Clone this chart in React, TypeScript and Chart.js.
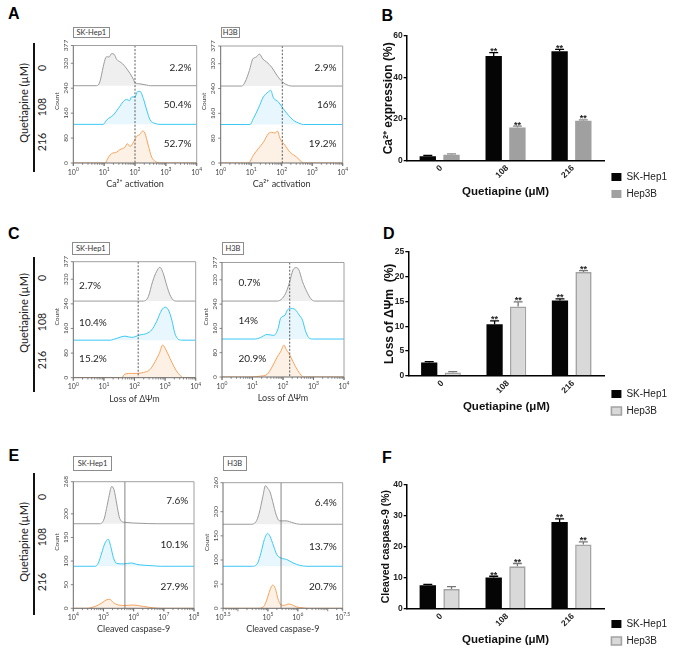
import React, { useEffect, useRef } from 'react';
import { Chart, registerables } from 'chart.js';

Chart.register(...registerables);

// ---------------- DATA ----------------
const doses = ['0', '108', '216'];
const cellLines = ['SK-Hep1', 'Hep3B'];
const significant = [false, true, true];

// B: Ca2+ expression (%)
const caSk = [2.2, 50.4, 52.7];
const caSkErr = [0.3, 1.6, 0.9];
const caHep = [2.9, 16, 19.2];
const caHepErr = [0.4, 0.6, 0.4];
// D: loss of mitochondrial membrane potential (%)
const mmpSk = [2.7, 10.4, 15.2];
const mmpSkErr = [0.2, 0.7, 0.3];
const mmpHep = [0.7, 14, 20.9];
const mmpHepErr = [0.2, 0.9, 0.3];
// F: cleaved caspase-9 (%)
const casSk = [7.6, 10.1, 27.9];
const casSkErr = [0.3, 0.4, 1.0];
const casHep = [6.4, 13.7, 20.7];
const casHepErr = [0.8, 0.9, 0.8];

// histogram traces: [log10 intensity, count above the row baseline]
const caSk0 = [[0.76, 0], [0.86, 12], [0.97, 61], [1.05, 90], [1.1, 93], [1.16, 92], [1.24, 103], [1.32, 101], [1.41, 84], [1.51, 77], [1.6, 70], [1.68, 61], [1.84, 39], [1.94, 22], [2.0, 10], [2.16, 6], [2.38, 2], [2.5, 0]];
const caSk108 = [[0.97, 0], [1.08, 14], [1.19, 22], [1.3, 30], [1.46, 51], [1.62, 73], [1.73, 80], [1.82, 76], [1.89, 88], [2.0, 88], [2.08, 105], [2.16, 106], [2.27, 83], [2.38, 46], [2.49, 14], [2.65, 3], [2.81, 0]];
const caSk216 = [[1.03, 0], [1.14, 19], [1.24, 30], [1.41, 35], [1.51, 43], [1.68, 51], [1.75, 62], [1.84, 53], [1.95, 67], [2.05, 85], [2.16, 92], [2.25, 103], [2.32, 96], [2.43, 57], [2.54, 19], [2.7, 3], [2.8, 0]];
const caHep0 = [[0.69, 0], [0.8, 13], [0.94, 50], [1.05, 87], [1.16, 93], [1.27, 103], [1.38, 87], [1.51, 77], [1.67, 61], [1.84, 35], [2.03, 13], [2.22, 2], [2.33, 0]];
const caHep108 = [[0.96, 0], [1.07, 19], [1.23, 51], [1.4, 89], [1.56, 105], [1.64, 110], [1.73, 86], [1.89, 73], [2.05, 51], [2.22, 30], [2.38, 14], [2.6, 3], [2.71, 0]];
const caHep216 = [[0.91, 0], [1.07, 25], [1.23, 46], [1.4, 67], [1.56, 94], [1.67, 99], [1.78, 96], [1.86, 103], [1.95, 78], [2.11, 57], [2.27, 35], [2.49, 19], [2.66, 3], [2.72, 0]];

const mmpSk0 = [[2.29, 0], [2.45, 14], [2.59, 63], [2.72, 96], [2.83, 110], [2.94, 90], [3.05, 52], [3.16, 20], [3.27, 3], [3.38, 0]];
const mmpSk108 = [[1.2, 0], [1.42, 6], [1.69, 13], [1.91, 9], [2.18, 17], [2.4, 22], [2.56, 33], [2.72, 60], [2.89, 98], [3.0, 107], [3.11, 98], [3.22, 65], [3.32, 22], [3.43, 3], [3.54, 0]];
const mmpSk216 = [[1.58, 0], [1.69, 12], [1.91, 14], [2.07, 14], [2.29, 17], [2.51, 27], [2.67, 52], [2.81, 79], [2.92, 106], [3.03, 90], [3.16, 63], [3.29, 36], [3.43, 14], [3.54, 3], [3.6, 0]];
const mmpHep0 = [[1.81, 0], [1.98, 9], [2.11, 31], [2.22, 64], [2.33, 103], [2.42, 110], [2.51, 105], [2.64, 64], [2.78, 31], [2.92, 7], [3.03, 0]];
const mmpHep108 = [[1.09, 0], [1.26, 5], [1.48, 15], [1.7, 12], [1.84, 35], [1.92, 68], [2.07, 79], [2.14, 95], [2.29, 101], [2.42, 95], [2.53, 79], [2.64, 62], [2.73, 29], [2.84, 5], [2.98, 0]];
const mmpHep216 = [[0.98, 0], [1.26, 3], [1.48, 9], [1.64, 33], [1.81, 66], [1.92, 83], [2.03, 105], [2.11, 90], [2.2, 77], [2.33, 50], [2.48, 22], [2.64, 2], [2.7, 0]];

const casSk0 = [[4.88, 0], [5.02, 10], [5.1, 32], [5.19, 60], [5.27, 79], [5.35, 72], [5.44, 42], [5.52, 15], [5.6, 5], [5.71, 3], [6.21, 1], [6.8, 0]];
const casSk108 = [[4.72, 0], [4.83, 7], [4.94, 28], [5.05, 49], [5.16, 57], [5.24, 42], [5.33, 18], [5.44, 6], [5.66, 5], [5.93, 7], [6.1, 4], [6.65, 1], [6.9, 0]];
const casSk216 = [[4.44, 0], [4.72, 4], [4.94, 11], [5.1, 18], [5.21, 19], [5.33, 12], [5.49, 7], [5.71, 6], [5.99, 7], [6.32, 4], [6.65, 1], [6.9, 0]];
const casHep0 = [[4.43, 0], [4.6, 5], [4.71, 23], [4.83, 57], [4.92, 80], [5.0, 74], [5.07, 67], [5.16, 47], [5.28, 19], [5.39, 7], [5.61, 7], [5.84, 3], [6.06, 0]];
const casHep108 = [[4.49, 0], [4.66, 7], [4.77, 28], [4.88, 55], [4.99, 68], [5.07, 62], [5.19, 42], [5.3, 24], [5.44, 17], [5.63, 14], [5.84, 7], [6.06, 2], [6.3, 0]];
const casHep216 = [[4.66, 0], [4.85, 3], [4.96, 17], [5.07, 38], [5.16, 48], [5.25, 41], [5.33, 21], [5.44, 7], [5.56, 6], [5.67, 9], [5.78, 8], [5.95, 3], [6.17, 1], [6.3, 0]];

// axis ticks
const ticksCount377 = [0, 80, 160, 240, 320, 377];
const ticksCount268 = [0, 50, 100, 150, 200, 268];
const ticksCount260 = [0, 50, 100, 150, 200, 260];
const decades04 = [0, 1, 2, 3, 4];
const decades48 = [4, 5, 6, 7, 8];
const decadesH3B = [3.5, 5, 6, 7.5];

// ---------------- STYLE ----------------
const FAM_H = 'Lato, "Open Sans", "DejaVu Sans", sans-serif';
const FAM_B = '"Liberation Sans", Arial, Helvetica, sans-serif';
const histColors = [
  { line: '#9b9b9b', fill: '#efefef' },
  { line: '#3cc8f5', fill: '#e7f7fd' },
  { line: '#f5a45f', fill: '#fdf0e5' },
];

type HistCfg = {
  plot: { l: number; t: number; r: number; b: number };
  xMin: number; xMax: number; xLabels: number[];
  yMax: number; yTicks: number[]; offsets: number[];
  series: number[][][];
  gate: number; gateDash: boolean;
  pct: number[]; pctX: number; pctAlign: 'left' | 'right'; pctY: number[];
  xTitle: string;
};

const hists: HistCfg[] = [
  { plot: { l: 73.3, t: 45.5, r: 196.7, b: 163 }, xMin: 0, xMax: 4, xLabels: decades04, yMax: 377, yTicks: ticksCount377, offsets: [248, 124, 0],
    series: [caSk0, caSk108, caSk216], gate: 2.0, gateDash: true, pct: caSk, pctX: 3.83, pctAlign: 'right', pctY: [306, 186, 63], xTitle: 'Ca²⁺ activation' },
  { plot: { l: 220.7, t: 46, r: 342.7, b: 163 }, xMin: 0, xMax: 4, xLabels: decades04, yMax: 377, yTicks: ticksCount377, offsets: [248, 124, 0],
    series: [caHep0, caHep108, caHep216], gate: 2.02, gateDash: true, pct: caHep, pctX: 3.8, pctAlign: 'right', pctY: [306, 186, 63], xTitle: 'Ca²⁺ activation' },
  { plot: { l: 73.3, t: 261.7, r: 195.7, b: 377.7 }, xMin: 0, xMax: 4, xLabels: decades04, yMax: 377, yTicks: ticksCount377, offsets: [249, 122, 0],
    series: [mmpSk0, mmpSk108, mmpSk216], gate: 2.12, gateDash: true, pct: mmpSk, pctX: 0.19, pctAlign: 'left', pctY: [298, 179, 60], xTitle: 'Loss of ΔΨm' },
  { plot: { l: 222, t: 262.5, r: 344, b: 377 }, xMin: 0, xMax: 4, xLabels: decades04, yMax: 377, yTicks: ticksCount377, offsets: [250, 125, 0],
    series: [mmpHep0, mmpHep108, mmpHep216], gate: 2.22, gateDash: true, pct: mmpHep, pctX: 0.54, pctAlign: 'left', pctY: [309, 184, 61], xTitle: 'Loss of ΔΨm' },
  { plot: { l: 73.3, t: 481.7, r: 194, b: 608.3 }, xMin: 4, xMax: 8, xLabels: decades48, yMax: 268, yTicks: ticksCount268, offsets: [179, 89, 0],
    series: [casSk0, casSk108, casSk216], gate: 5.71, gateDash: false, pct: casSk, pctX: 7.81, pctAlign: 'right', pctY: [227, 134, 45], xTitle: 'Cleaved caspase-9' },
  { plot: { l: 223, t: 482.7, r: 342.7, b: 608.3 }, xMin: 3.5, xMax: 7.5, xLabels: decadesH3B, yMax: 260, yTicks: ticksCount260, offsets: [174, 87, 0],
    series: [casHep0, casHep108, casHep216], gate: 5.44, gateDash: false, pct: casHep, pctX: 7.3, pctAlign: 'right', pctY: [219, 128, 44], xTitle: 'Cleaved caspase-9' },
];

function histDecor(cfg: HistCfg) {
  return {
    id: 'histDecor',
    afterDatasetsDraw(chart: any) {
      const { ctx, chartArea: a } = chart;
      const xs = chart.scales.x;
      const ys = chart.scales.y;
      const px = (e: number) => xs.getPixelForValue(Math.pow(10, e));
      ctx.save();
      // gate line
      const gx = px(cfg.gate);
      ctx.strokeStyle = cfg.gateDash ? '#4a4a4a' : '#666';
      ctx.lineWidth = cfg.gateDash ? 0.9 : 0.8;
      ctx.setLineDash(cfg.gateDash ? [2, 1.6] : []);
      ctx.beginPath(); ctx.moveTo(gx, a.top); ctx.lineTo(gx, a.bottom); ctx.stroke();
      ctx.setLineDash([]);
      // frame
      ctx.lineWidth = 1;
      ctx.strokeStyle = '#a0a0a0';
      ctx.beginPath(); ctx.moveTo(a.left, a.top); ctx.lineTo(a.right, a.top); ctx.lineTo(a.right, a.bottom); ctx.stroke();
      ctx.strokeStyle = '#6a6a6a';
      ctx.beginPath(); ctx.moveTo(a.left, a.top); ctx.lineTo(a.left, a.bottom); ctx.lineTo(a.right, a.bottom); ctx.stroke();
      // x ticks
      ctx.lineWidth = 0.8;
      ctx.beginPath();
      for (let e = Math.floor(cfg.xMin); e <= Math.ceil(cfg.xMax); e++) {
        for (let k = 1; k <= 9; k++) {
          const le = e + Math.log10(k);
          if (le < cfg.xMin - 1e-6 || le > cfg.xMax + 1e-6) continue;
          const x = px(le);
          ctx.moveTo(x, a.bottom); ctx.lineTo(x, a.bottom + (k === 1 ? 3 : 1.8));
        }
      }
      cfg.xLabels.forEach((e) => { const x = px(e); ctx.moveTo(x, a.bottom); ctx.lineTo(x, a.bottom + 3); });
      ctx.stroke();
      // x tick labels (10 with superscript exponent)
      ctx.fillStyle = '#444';
      ctx.textBaseline = 'alphabetic';
      ctx.textAlign = 'left';
      cfg.xLabels.forEach((e) => {
        const x = px(e);
        const sup = String(e);
        ctx.font = `7px ${FAM_H}`;
        const w1 = ctx.measureText('10').width;
        ctx.font = `5px ${FAM_H}`;
        const w2 = ctx.measureText(sup).width;
        const sx = x - (w1 + w2) / 2;
        const by = a.bottom + 11.5;
        ctx.font = `7px ${FAM_H}`;
        ctx.fillText('10', sx, by);
        ctx.font = `5px ${FAM_H}`;
        ctx.fillText(sup, sx + w1, by - 3.5);
      });
      // y ticks
      ctx.beginPath();
      cfg.yTicks.forEach((v) => { const y = ys.getPixelForValue(v); ctx.moveTo(a.left - 2.5, y); ctx.lineTo(a.left, y); });
      ctx.stroke();
      ctx.font = `6.5px ${FAM_H}`;
      ctx.textAlign = 'center';
      ctx.textBaseline = 'middle';
      cfg.yTicks.forEach((v) => {
        const y = ys.getPixelForValue(v);
        ctx.save(); ctx.translate(a.left - 7.5, y); ctx.rotate(-Math.PI / 2); ctx.fillText(String(v), 0, 0); ctx.restore();
      });
      ctx.save(); ctx.translate(a.left - 16.5, (a.top + a.bottom) / 2 - 3); ctx.rotate(-Math.PI / 2); ctx.fillText('Count', 0, 0); ctx.restore();
      // x title
      ctx.font = `9px ${FAM_H}`;
      ctx.fillStyle = '#333';
      ctx.fillText(cfg.xTitle, (a.left + a.right) / 2, a.bottom + 21);
      // percentages
      ctx.font = `10px ${FAM_H}`;
      ctx.fillStyle = '#1e1e1e';
      ctx.textAlign = cfg.pctAlign;
      cfg.pct.forEach((v, i) => ctx.fillText(`${v}%`, px(cfg.pctX), ys.getPixelForValue(cfg.pctY[i])));
      ctx.restore();
    },
  };
}

function Hist({ cfg }: { cfg: HistCfg }) {
  const ref = useRef<HTMLCanvasElement>(null);
  const p = cfg.plot;
  const left = Math.floor(p.l - 28);
  const top = Math.floor(p.t - 8);
  const w = Math.ceil(p.r + 10) - left;
  const h = Math.ceil(p.b + 30) - top;
  useEffect(() => {
    const datasets = cfg.series.map((s, i) => {
      const off = cfg.offsets[i];
      const pts = [
        { x: Math.pow(10, cfg.xMin), y: off },
        ...s.map(([e, c]) => ({ x: Math.pow(10, e), y: c + off })),
        { x: Math.pow(10, cfg.xMax), y: off },
      ];
      return {
        data: pts,
        borderColor: histColors[i].line,
        backgroundColor: histColors[i].fill,
        borderWidth: 1,
        pointRadius: 0,
        fill: { value: off },
        cubicInterpolationMode: 'monotone' as const,
      };
    });
    const chart = new Chart(ref.current!, {
      type: 'line',
      data: { datasets },
      options: {
        responsive: false,
        animation: false,
        events: [],
        layout: { padding: { left: p.l - left, top: p.t - top, right: left + w - p.r, bottom: top + h - p.b } },
        scales: {
          x: { type: 'logarithmic', min: Math.pow(10, cfg.xMin), max: Math.pow(10, cfg.xMax), display: false },
          y: { type: 'linear', min: 0, max: cfg.yMax, display: false },
        },
        plugins: { legend: { display: false }, tooltip: { enabled: false } },
      },
      plugins: [histDecor(cfg)],
    } as any);
    return () => chart.destroy();
  }, []);
  return <canvas ref={ref} width={w} height={h} style={{ position: 'absolute', left, top, width: w, height: h }} />;
}

type BarCfg = {
  rect: { left: number; top: number; w: number; h: number };
  areaLeft: number; areaTop: number; areaBottom: number;
  yMax: number; yStep: number; yTitle: string; yTitleSize: number; yTitleX: number; xTitleY: number;
  sk: number[]; skErr: number[]; hep: number[]; hepErr: number[];
  hepFill: string; hepBorder: string; hepBorderW: number; hepErrColor: string;
};

const bars: BarCfg[] = [
  { rect: { left: 375, top: 22, w: 302, h: 184 }, areaLeft: 406.7, areaTop: 36, areaBottom: 160.7,
    yMax: 60, yStep: 20, yTitle: 'Ca²⁺ expression (%)', yTitleSize: 12, yTitleX: 389, xTitleY: 192,
    sk: caSk, skErr: caSkErr, hep: caHep, hepErr: caHepErr, hepFill: '#a0a0a0', hepBorder: '#a0a0a0', hepBorderW: 0, hepErrColor: '#8a8a8a' },
  { rect: { left: 375, top: 238, w: 302, h: 185 }, areaLeft: 408.3, areaTop: 251.7, areaBottom: 376,
    yMax: 25, yStep: 5, yTitle: 'Loss of ΔΨm  (%)', yTitleSize: 12, yTitleX: 390, xTitleY: 406.7,
    sk: mmpSk, skErr: mmpSkErr, hep: mmpHep, hepErr: mmpHepErr, hepFill: '#d9d9d9', hepBorder: '#a3a3a3', hepBorderW: 1.6, hepErrColor: '#777' },
  { rect: { left: 375, top: 472, w: 302, h: 181 }, areaLeft: 406.7, areaTop: 484.3, areaBottom: 609,
    yMax: 40, yStep: 10, yTitle: 'Cleaved caspase-9 (%)', yTitleSize: 10.5, yTitleX: 386, xTitleY: 640,
    sk: casSk, skErr: casSkErr, hep: casHep, hepErr: casHepErr, hepFill: '#d9d9d9', hepBorder: '#a3a3a3', hepBorderW: 1.6, hepErrColor: '#777' },
];

function barDecor(cfg: BarCfg) {
  return {
    id: 'barDecor',
    afterDatasetsDraw(chart: any) {
      const { ctx, chartArea: a } = chart;
      const ys = chart.scales.y;
      const xs = chart.scales.x;
      const vals = [cfg.sk, cfg.hep];
      const errs = [cfg.skErr, cfg.hepErr];
      const colors = ['#000', cfg.hepErrColor];
      ctx.save();
      for (let d = 0; d < 2; d++) {
        const meta = chart.getDatasetMeta(d);
        meta.data.forEach((bar: any, i: number) => {
          const top = ys.getPixelForValue(vals[d][i] + errs[d][i]);
          ctx.strokeStyle = colors[d];
          ctx.lineWidth = 1.3;
          ctx.beginPath();
          ctx.moveTo(bar.x, bar.y); ctx.lineTo(bar.x, top);
          ctx.moveTo(bar.x - 4.5, top); ctx.lineTo(bar.x + 4.5, top);
          ctx.stroke();
          if (significant[i]) {
            ctx.fillStyle = '#222';
            ctx.font = `bold 9px ${FAM_B}`;
            ctx.textAlign = 'center';
            ctx.textBaseline = 'alphabetic';
            ctx.fillText('**', bar.x, top + 1.5);
          }
        });
      }
      // category labels rotated 45 degrees
      ctx.fillStyle = '#222';
      ctx.font = `bold 8.5px ${FAM_B}`;
      ctx.textAlign = 'right';
      ctx.textBaseline = 'middle';
      doses.forEach((lab, i) => {
        const x = xs.getPixelForTick(i);
        ctx.save();
        ctx.translate(x + 1.5, a.bottom + 6);
        ctx.rotate(-Math.PI / 4);
        ctx.fillText(lab, 0, 0);
        ctx.restore();
      });
      ctx.restore();
    },
  };
}

function Bar({ cfg }: { cfg: BarCfg }) {
  const ref = useRef<HTMLCanvasElement>(null);
  const r = cfg.rect;
  useEffect(() => {
    const tFont = { family: FAM_B, size: 8.5, weight: 'bold' as const };
    const chart = new Chart(ref.current!, {
      type: 'bar',
      data: {
        labels: doses,
        datasets: [
          { label: cellLines[0], data: cfg.sk, backgroundColor: '#050505', borderColor: '#050505', borderWidth: 0, barPercentage: 0.69, categoryPercentage: 0.72 },
          { label: cellLines[1], data: cfg.hep, backgroundColor: cfg.hepFill, borderColor: cfg.hepBorder, borderWidth: cfg.hepBorderW, barPercentage: 0.69, categoryPercentage: 0.72 },
        ],
      },
      options: {
        responsive: false,
        animation: false,
        events: [],
        layout: { padding: { top: cfg.areaTop - r.top, left: 0, right: 0, bottom: 0 } },
        scales: {
          x: {
            grid: { display: false, drawTicks: false },
            border: { display: true, color: '#000', width: 1.5 },
            ticks: { display: false },
            title: { display: true, text: 'Quetiapine (μM)', color: '#111', font: { family: FAM_B, size: 11.5, weight: 'bold' }, padding: { top: 0, bottom: r.top + r.h - cfg.xTitleY - 6.9 } },
            afterFit: (s: any) => { s.height = r.top + r.h - cfg.areaBottom; },
          },
          y: {
            min: 0, max: cfg.yMax,
            ticks: { stepSize: cfg.yStep, font: tFont, color: '#222', padding: 1 },
            grid: { drawOnChartArea: false, drawTicks: true, tickLength: 3, color: '#000', lineWidth: 1.3 },
            border: { display: true, color: '#000', width: 1.5 },
            title: { display: true, text: cfg.yTitle, color: '#111', font: { family: FAM_B, size: cfg.yTitleSize, weight: 'bold' }, padding: { top: cfg.yTitleX - r.left - cfg.yTitleSize * 0.6, bottom: 0 } },
            afterFit: (s: any) => { s.width = cfg.areaLeft - r.left; },
          },
        },
        plugins: {
          legend: {
            position: 'right', align: 'end',
            labels: { boxWidth: 10, boxHeight: 8, padding: 7, color: '#222', font: { family: FAM_B, size: 10 } },
          },
          tooltip: { enabled: false },
        },
      },
      plugins: [barDecor(cfg)],
    } as any);
    return () => chart.destroy();
  }, []);
  return <canvas ref={ref} width={r.w} height={r.h} style={{ position: 'absolute', left: r.left, top: r.top, width: r.w, height: r.h }} />;
}

// ---------------- LAYOUT (HTML text) ----------------
const letters = [
  { t: 'A', x: 8, y: 6 }, { t: 'B', x: 381.5, y: 8 }, { t: 'C', x: 8, y: 226 },
  { t: 'D', x: 383, y: 226 }, { t: 'E', x: 8.5, y: 448 }, { t: 'F', x: 382, y: 449.5 },
];
const sideGroups = [
  { barTop: 43, barBottom: 172, labelY: 103, rowY: [68, 106.7, 141.7] },
  { barTop: 256.7, barBottom: 391.7, labelY: 313, rowY: [278.3, 321.7, 360] },
  { barTop: 473.3, barBottom: 615, labelY: 541.7, rowY: [496.7, 536.7, 581.7] },
];
const cellBoxes = [
  { t: 'SK-Hep1', l: 72.7, y: 27.3, w: 37.3, h: 11 },
  { t: 'H3B', l: 221, y: 27.3, w: 18.5, h: 11 },
  { t: 'SK-Hep1', l: 71.7, y: 241.7, w: 38.3, h: 13.3 },
  { t: 'H3B', l: 221.7, y: 242, w: 22.5, h: 13 },
  { t: 'SK-Hep1', l: 73.3, y: 456, w: 38.5, h: 15 },
  { t: 'H3B', l: 222.7, y: 455.5, w: 24, h: 15.5 },
];

function Rot({ x, y, text, size }: { x: number; y: number; text: string; size: number }) {
  return (
    <div style={{ position: 'absolute', left: x, top: y, transform: 'translate(-50%,-50%) rotate(-90deg)', whiteSpace: 'nowrap', fontFamily: FAM_H, fontSize: size, lineHeight: 1, color: '#1a1a1a' }}>{text}</div>
  );
}

export default function App() {
  return (
    <div style={{ position: 'absolute', left: 0, top: 0, width: 677, height: 654, background: '#fff', overflow: 'hidden' }}>
      {letters.map((l) => (
        <div key={l.t} style={{ position: 'absolute', left: l.x, top: l.y, fontFamily: FAM_B, fontWeight: 'bold', fontSize: 16, lineHeight: 1, color: '#000' }}>{l.t}</div>
      ))}
      {sideGroups.map((g, gi) => (
        <React.Fragment key={gi}>
          <div style={{ position: 'absolute', left: 32.5, top: g.barTop, width: 2, height: g.barBottom - g.barTop, background: '#111' }} />
          <Rot x={22.5} y={g.labelY} text="Quetiapine (µM)" size={11} />
          {g.rowY.map((ry, i) => <Rot key={i} x={42} y={ry} text={doses[i]} size={10.5} />)}
        </React.Fragment>
      ))}
      {cellBoxes.map((b, i) => (
        <div key={i} style={{ position: 'absolute', left: b.l, top: b.y, width: b.w, height: b.h, boxSizing: 'border-box', border: '1px solid #8c8c8c', display: 'flex', alignItems: 'center', justifyContent: 'center', fontFamily: FAM_H, fontSize: 7.5, color: '#333', whiteSpace: 'nowrap' }}>{b.t}</div>
      ))}
      {hists.map((c, i) => <Hist key={i} cfg={c} />)}
      {bars.map((c, i) => <Bar key={i} cfg={c} />)}
    </div>
  );
}
